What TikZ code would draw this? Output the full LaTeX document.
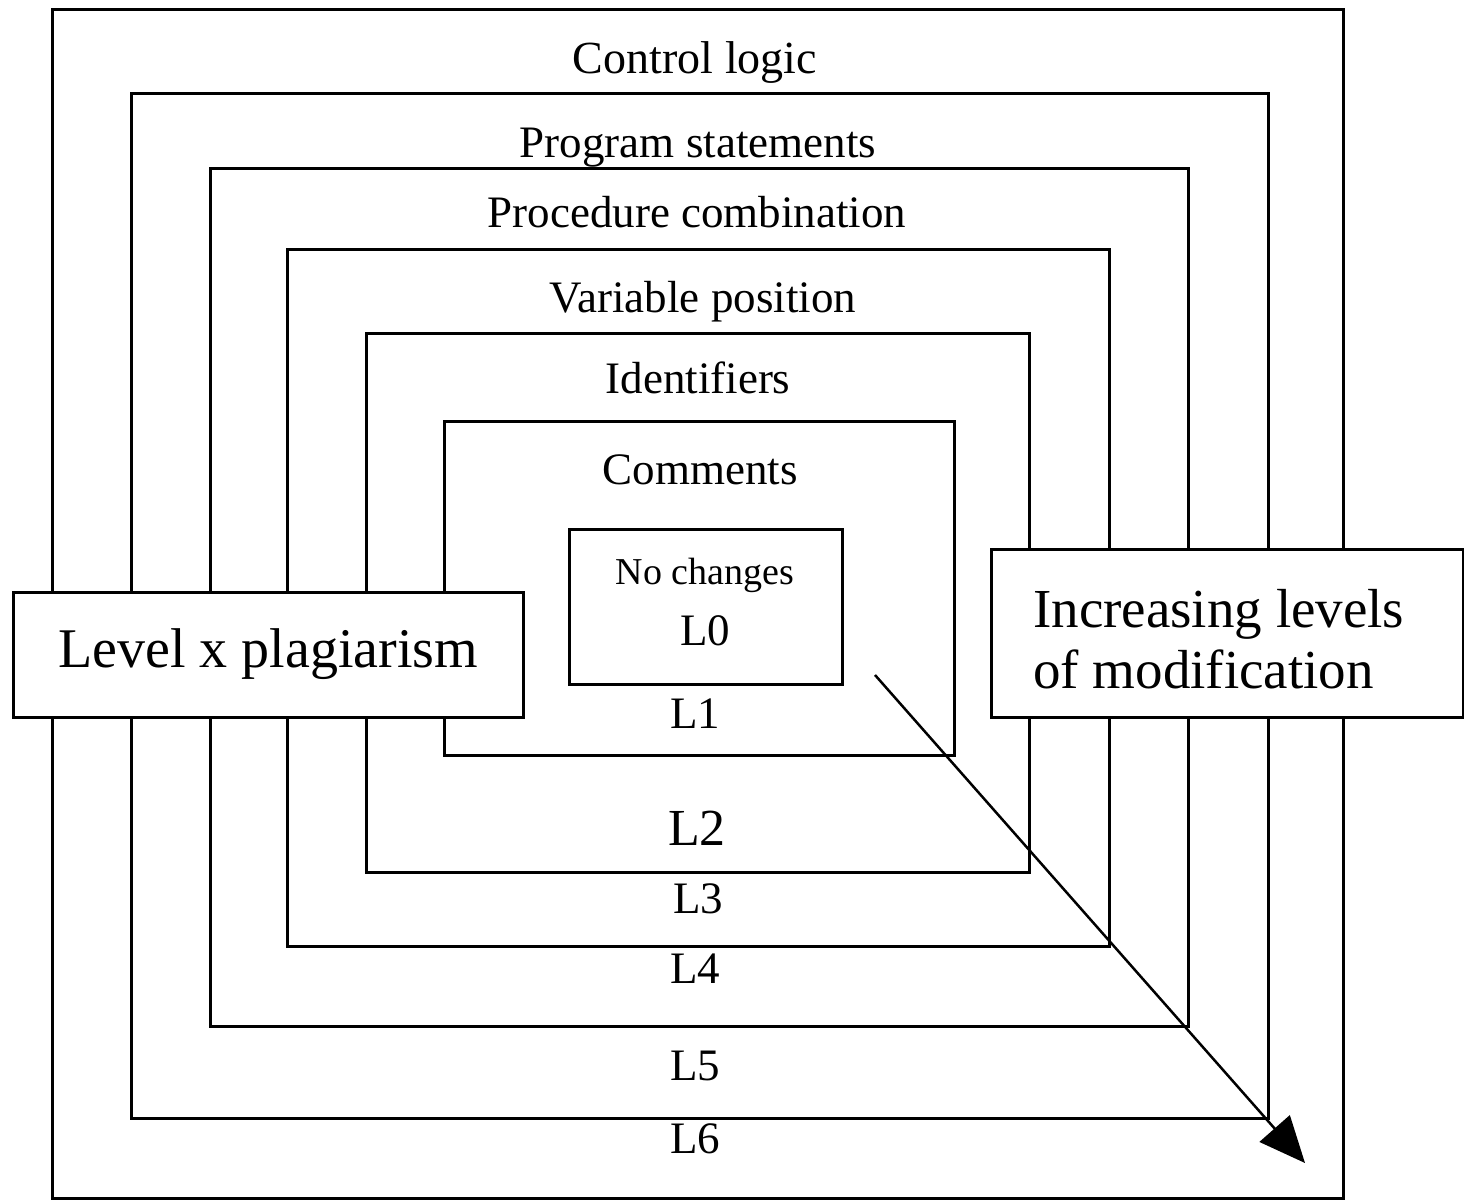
\documentclass[tikz,border=0pt]{standalone}
\usepackage{fontspec}
\setmainfont{Liberation Serif}
\usetikzlibrary{arrows.meta}
\tikzset{
  frame/.style={draw=black, line width=3pt},
  tag/.style={inner sep=0pt, anchor=base},
  fs/.style={font=\fontsize{#1}{#1}\selectfont},
  labelbox/.style={draw=black, line width=3pt, fill=white},
}
\begin{document}
\begin{tikzpicture}[x=1pt,y=-1pt]
\useasboundingbox (0,0) rectangle (1464,1201);
% nested levels, outermost first
\draw[frame] (52,10) rectangle (1343,1198);
\draw[frame] (131,94) rectangle (1268,1118);
\draw[frame] (210,169) rectangle (1188,1026);
\draw[frame] (287,249) rectangle (1109,946);
\draw[frame] (366,333) rectangle (1029,872);
\draw[frame] (444,421) rectangle (954,755);
\draw[frame] (569,529) rectangle (842,684);
% level names
\node[tag, fs=46] (cl) at (695,74) {Control logic};
\node[tag, fs=45] (ps) at (698,158) {Program statements};
\node[tag, fs=45] (pc) at (697,228) {Procedure combination};
\node[tag, fs=45] (vp) at (703,312) {Variable position};
\node[tag, fs=45] (id) at (698,393) {Identifiers};
\node[tag, fs=45] (cm) at (700,484) {Comments};
\node[tag, fs=38] (nc) at (705,584) {No changes};
% level numbers
\node[tag, fs=45] (l0) at (705,645) {L0};
\node[tag, fs=45] (l1) at (695,728) {L1};
\node[tag, fs=52] (l2) at (697,845) {L2};
\node[tag, fs=45] (l3) at (698,913) {L3};
\node[tag, fs=45] (l4) at (695,983) {L4};
\node[tag, fs=45] (l5) at (695,1080) {L5};
\node[tag, fs=45] (l6) at (695,1153) {L6};
% side boxes
\draw[labelbox] (13,592) rectangle (523,717);
\node[tag, fs=56] (lx) at (268,667) {Level x plagiarism};
\draw[labelbox] (991,549) rectangle (1463,717);
\node[tag, fs=55, anchor=base west] (il) at (1033,627) {Increasing levels};
\node[tag, fs=55, anchor=base west] (om) at (1033,688) {of modification};
% direction of increasing modification
\coordinate (a0) at (875,675);
\coordinate (a1) at (1305,1163);
\draw[line width=2.5pt, -{Triangle[length=46pt,width=40pt]}] (a0) -- (a1);
\end{tikzpicture}
\end{document}
